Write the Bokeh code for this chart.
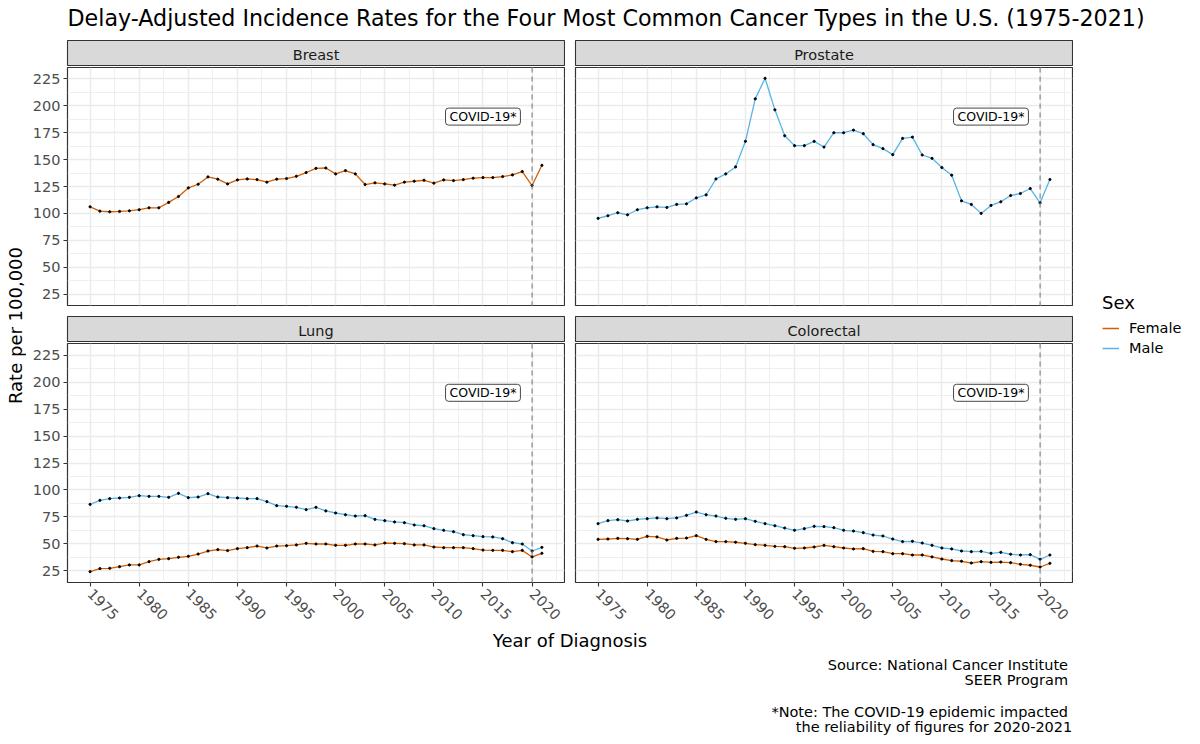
import math
from bokeh.plotting import figure
from bokeh.models import (Range1d, FixedTicker, Span, Label, Legend, LegendItem,
                          ColumnDataSource, Spacer, Grid)
from bokeh.layouts import column, row
from bokeh.embed import file_html
from bokeh.resources import INLINE

FONT = "DejaVu Sans"

# ---------------- data ----------------
years = list(range(1975, 2022))

breast_female = [106.1, 102.1, 101.5, 101.8, 102.4, 103.4, 105.2, 105.2, 110.2, 115.7,
                 123.7, 127.1, 133.9, 131.8, 127.4, 131.1, 132.0, 131.4, 129.0, 131.8,
                 132.4, 134.5, 138.0, 141.9, 142.2, 136.7, 139.8, 136.7, 126.8, 128.4,
                 127.4, 126.2, 129.0, 129.9, 130.8, 128.1, 131.1, 130.5, 131.4, 132.7,
                 133.3, 133.3, 134.2, 135.8, 138.9, 125.9, 144.7]

prostate_male = [95.4, 97.8, 100.6, 98.7, 103.4, 105.2, 106.1, 105.5, 108.3, 108.9,
                 114.4, 117.2, 132.0, 136.7, 143.2, 167.0, 206.5, 225.6, 196.3, 172.2,
                 163.0, 163.0, 167.0, 161.7, 175.0, 175.0, 177.4, 174.1, 163.9, 160.2,
                 154.6, 169.7, 170.9, 154.3, 151.2, 142.6, 135.5, 111.7, 108.3, 100.0,
                 107.4, 110.8, 116.6, 118.5, 123.1, 109.8, 131.5]

lung_male = [86.7, 90.4, 92.0, 92.6, 93.2, 94.7, 94.1, 94.1, 93.2, 96.9,
             92.9, 93.5, 96.6, 93.5, 92.9, 92.6, 92.0, 92.0, 89.2, 85.5,
             84.9, 84.0, 81.8, 84.0, 80.6, 78.7, 77.1, 75.9, 76.2, 72.8,
             71.6, 70.4, 69.7, 67.6, 66.9, 64.2, 62.7, 61.4, 58.6, 57.7,
             56.8, 56.5, 54.9, 51.2, 50.0, 43.5, 46.9]

lung_female = [24.4, 27.2, 27.5, 29.0, 30.6, 30.6, 33.6, 35.8, 36.4, 37.7,
               38.6, 40.7, 43.5, 44.8, 43.9, 45.7, 46.6, 48.1, 46.3, 48.1,
               48.4, 49.1, 50.6, 50.0, 50.0, 48.8, 48.8, 50.0, 50.0, 49.1,
               50.9, 50.6, 50.3, 49.1, 49.1, 47.2, 46.6, 46.6, 46.6, 45.7,
               44.4, 44.1, 44.1, 42.9, 44.1, 38.0, 41.4]

colorectal_male = [68.8, 71.6, 72.5, 71.3, 72.8, 73.4, 74.1, 73.4, 74.1, 76.5,
                   79.6, 77.1, 75.9, 73.8, 72.8, 73.4, 71.0, 68.8, 66.9, 64.8,
                   62.7, 64.2, 66.4, 66.1, 65.1, 62.7, 62.0, 60.5, 58.3, 57.4,
                   54.6, 52.2, 52.5, 50.9, 48.8, 46.3, 45.4, 43.5, 42.9, 43.2,
                   41.4, 42.3, 40.5, 39.8, 40.1, 35.8, 39.8]

colorectal_female = [54.3, 54.6, 55.2, 54.9, 54.3, 57.1, 56.5, 53.7, 55.2, 55.5,
                     57.7, 54.3, 52.2, 52.2, 51.6, 50.6, 49.4, 48.8, 47.8, 47.5,
                     46.0, 46.3, 47.2, 48.8, 47.5, 46.3, 45.4, 45.7, 43.2, 42.9,
                     41.0, 41.0, 39.8, 39.8, 38.0, 36.1, 34.6, 34.0, 32.4, 33.6,
                     33.0, 33.3, 32.7, 31.2, 30.3, 28.7, 32.1]

x_ticks = [1975, 1980, 1985, 1990, 1995, 2000, 2005, 2010, 2015, 2020]
y_ticks = [25, 50, 75, 100, 125, 150, 175, 200, 225]

covid_year = 2020
covid_label_x = 2015
covid_label_y = 190
covid_text = "COVID-19*"

sexes = ["Female", "Male"]
sex_colors = {"Female": "#D55E00", "Male": "#56B4E9"}
legend_series = {"Female": lung_female, "Male": lung_male}

title_text = "Delay-Adjusted Incidence Rates for the Four Most Common Cancer Types in the U.S. (1975-2021)"
x_title = "Year of Diagnosis"
y_title = "Rate per 100,000"
caption_lines = ["Source: National Cancer Institute", "SEER Program", "",
                 "*Note: The COVID-19 epidemic impacted",
                 "the reliability of figures for 2020-2021"]

panels = [
    ("Breast", [("Female", breast_female)]),
    ("Prostate", [("Male", prostate_male)]),
    ("Lung", [("Female", lung_female), ("Male", lung_male)]),
    ("Colorectal", [("Female", colorectal_female), ("Male", colorectal_male)]),
]

# shared scales (ggplot default 5% expansion)
all_vals = breast_female + prostate_male + lung_male + lung_female + colorectal_male + colorectal_female
y_pad = 0.05 * (max(all_vals) - min(all_vals))
y_lo, y_hi = min(all_vals) - y_pad, max(all_vals) + y_pad
x_pad = 0.05 * (max(years) - min(years))
x_lo, x_hi = min(years) - x_pad, max(years) + x_pad
x_minor = [t + 2.5 for t in x_ticks]
y_minor = [t + 12.5 for t in y_ticks]

GRID = "#EBEBEB"
DARK = "#333333"
TICK_TXT = "#4D4D4D"
BOTTOM_BORDER = 47


def blank_fig(w, h, xr, yr, **kw):
    f = figure(width=w, height=h, x_range=xr, y_range=yr,
               x_axis_location=None, y_axis_location=None,
               output_backend="svg", toolbar_location=None, **kw)
    f.grid.visible = False
    return f


def make_panel(series, left_axis, bottom_axis, frame_w, frame_h):
    mbl = 41 if left_axis else 1
    mbb = BOTTOM_BORDER if bottom_axis else 1
    p = figure(width=mbl + frame_w + 1, height=1 + frame_h + mbb,
               x_range=Range1d(x_lo, x_hi), y_range=Range1d(y_lo, y_hi),
               x_axis_location="below" if bottom_axis else None,
               y_axis_location="left" if left_axis else None,
               output_backend="svg", toolbar_location=None,
               min_border_left=mbl, min_border_right=1, min_border_top=1,
               min_border_bottom=mbb, background_fill_color="white",
               outline_line_color=DARK, outline_line_width=1.2)
    p.center = [r for r in p.center if not isinstance(r, Grid)]
    gx = Grid(dimension=0, ticker=FixedTicker(ticks=x_ticks, minor_ticks=x_minor),
              grid_line_color=GRID, grid_line_width=1.5,
              minor_grid_line_color=GRID, minor_grid_line_width=0.8)
    gy = Grid(dimension=1, ticker=FixedTicker(ticks=y_ticks, minor_ticks=y_minor),
              grid_line_color=GRID, grid_line_width=1.5,
              minor_grid_line_color=GRID, minor_grid_line_width=0.8)
    p.add_layout(gx, "center")
    p.add_layout(gy, "center")

    for ax in p.xaxis + p.yaxis:
        ax.axis_line_color = None
        ax.major_tick_line_color = DARK
        ax.major_tick_line_width = 1.1
        ax.major_tick_out = 4
        ax.major_tick_in = 0
        ax.minor_tick_line_color = None
        ax.major_label_text_font = FONT
        ax.major_label_text_font_size = "14.5px"
        ax.major_label_text_color = TICK_TXT
        ax.major_label_standoff = 3
    if bottom_axis:
        p.xaxis.ticker = FixedTicker(ticks=x_ticks)
        p.xaxis.major_label_orientation = -math.pi / 4
        p.xaxis.major_label_standoff = 5
    if left_axis:
        p.yaxis.ticker = FixedTicker(ticks=y_ticks)

    p.add_layout(Span(location=covid_year, dimension="height", line_color="#7F7F7F",
                      line_dash="5 4", line_width=1.1))

    srcs = []
    for sex, vals in series:
        src = ColumnDataSource(dict(x=years, y=vals))
        srcs.append(src)
        p.line("x", "y", source=src, line_color=sex_colors[sex], line_width=1.3)
    for src in srcs:
        p.scatter("x", "y", source=src, size=2.2, color="black")

    p.add_layout(Label(x=covid_label_x, y=covid_label_y, text=covid_text,
                       text_align="center", text_baseline="middle",
                       text_font=FONT, text_font_size="12.5px", text_color="black",
                       background_fill_color="white", border_line_color=DARK,
                       border_line_width=0.9,
                       padding=dict(left=4, right=4, top=1, bottom=1),
                       border_radius=3))
    return p


def make_strip(text, w):
    s = blank_fig(w, 27, Range1d(0, 1), Range1d(0, 1),
                  min_border_left=1, min_border_right=1, min_border_top=1,
                  min_border_bottom=0, background_fill_color="#D9D9D9",
                  outline_line_color=DARK, outline_line_width=1.1)
    s.add_layout(Label(x=0.5, y=0.45, text=text, text_align="center",
                       text_baseline="middle", text_font=FONT,
                       text_font_size="14.5px", text_color="#1A1A1A"))
    return s


FW, FH_TOP, FH_BOT = 497, 238, 239

p_b = make_panel(panels[0][1], True, False, FW, FH_TOP)
p_p = make_panel(panels[1][1], False, False, FW, FH_TOP)
p_l = make_panel(panels[2][1], True, True, FW, FH_BOT)
p_c = make_panel(panels[3][1], False, True, FW, FH_BOT)

s_b = make_strip(panels[0][0], 499)
s_p = make_strip(panels[1][0], 499)
s_l = make_strip(panels[2][0], 499)
s_c = make_strip(panels[3][0], 499)

TOTAL_W, TOTAL_H = 1200, 744
TITLE_H = 39
YLAB_W = 26
BOT_PANEL_H = 1 + FH_BOT + BOTTOM_BORDER
MID_H = 27 + 240 + 9 + 27 + BOT_PANEL_H
PANELS_W = 40 + 499 + 9 + 499
LEG_W = TOTAL_W - YLAB_W - PANELS_W
BOT_H = TOTAL_H - TITLE_H - MID_H
BOT_TOP = TITLE_H + MID_H  # page y where bottom block starts

# title
title_fig = blank_fig(TOTAL_W, TITLE_H, Range1d(0, TOTAL_W), Range1d(TITLE_H, 0),
                      min_border=0, outline_line_color=None)
title_fig.add_layout(Label(x=67, y=17, text=title_text, text_align="left",
                           text_baseline="middle", text_font=FONT,
                           text_font_size="22.2px", text_color="black"))

# y-axis title
ylab_fig = blank_fig(YLAB_W, MID_H, Range1d(0, YLAB_W), Range1d(0, MID_H),
                     min_border=0, outline_line_color=None)
ylab_fig.add_layout(Label(x=15.2, y=MID_H - 286, text=y_title, angle=math.pi / 2,
                          text_align="center", text_baseline="middle",
                          text_font=FONT, text_font_size="18px", text_color="black"))

# legend
legend_fig = blank_fig(LEG_W, MID_H, Range1d(0, 1), Range1d(0, 1),
                       min_border=0, outline_line_color=None)
items = []
for sex in sexes:
    src = ColumnDataSource(dict(x=years, y=legend_series[sex]))
    r = legend_fig.line("x", "y", source=src, line_color=sex_colors[sex], line_width=1.5)
    items.append(LegendItem(label=sex, renderers=[r]))
legend = Legend(items=items, location=(29, MID_H - 591 + 272), title="Sex",
                title_text_font=FONT, title_text_font_size="18px",
                title_text_font_style="normal",
                title_text_color="black", title_standoff=5,
                label_text_font=FONT, label_text_font_size="14.5px",
                label_text_color="black", glyph_width=17, glyph_height=20,
                label_height=20, label_standoff=10, spacing=0, padding=0,
                margin=0, border_line_color=None, background_fill_alpha=0)
legend_fig.add_layout(legend)

# x title + caption (positions in page pixels, converted to local)
bottom_fig = blank_fig(TOTAL_W, BOT_H, Range1d(0, TOTAL_W), Range1d(BOT_H, 0),
                       min_border=0, outline_line_color=None)
bottom_fig.add_layout(Label(x=569.5, y=max(639.2 - BOT_TOP, 10.7), text=x_title,
                            text_align="center", text_baseline="middle",
                            text_font=FONT, text_font_size="18px", text_color="black"))
cap_y = [664, 679.5, 695, 711, 726.7]
cap_x = [1067.5, 1067.5, 1067.5, 1067.5, 1071.8]
for t, cy, cx in zip(caption_lines, cap_y, cap_x):
    if t:
        bottom_fig.add_layout(Label(x=cx, y=cy - BOT_TOP, text=t, text_align="right",
                                    text_baseline="middle", text_font=FONT,
                                    text_font_size="14.5px", text_color="black"))

top_strips = row(Spacer(width=40, height=27), s_b, Spacer(width=9, height=27), s_p)
top_panels = row(p_b, Spacer(width=9, height=240), p_p)
bot_strips = row(Spacer(width=40, height=27), s_l, Spacer(width=9, height=27), s_c)
bot_panels = row(p_l, Spacer(width=9, height=BOT_PANEL_H), p_c)
panels_col = column(top_strips, top_panels, Spacer(width=PANELS_W, height=9), bot_strips, bot_panels)
middle = row(ylab_fig, panels_col, legend_fig)
root = column(title_fig, middle, bottom_fig)

open("out.html", "w").write(file_html(root, INLINE))
